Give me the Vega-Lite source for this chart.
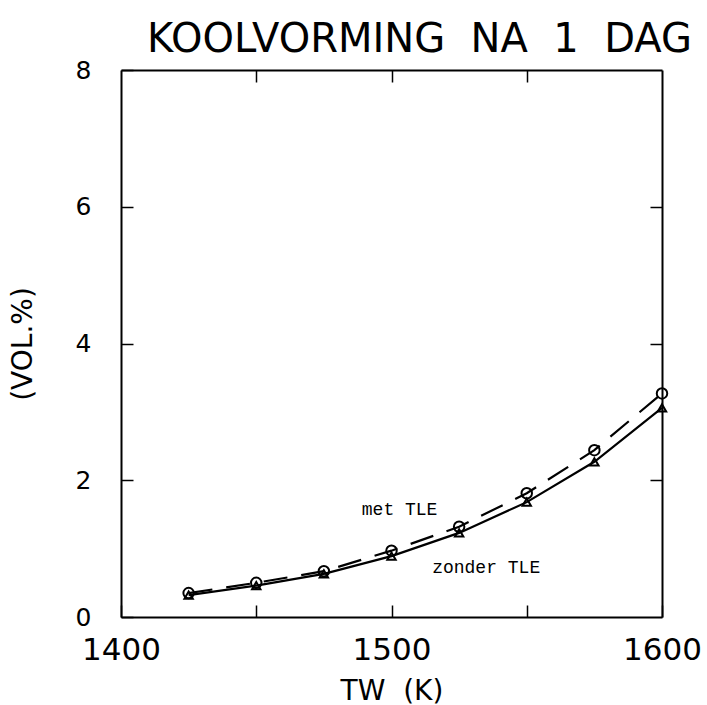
{
  "$schema": "https://vega.github.io/schema/vega-lite/v6.json",
  "autosize": "none",
  "width": 541,
  "height": 547,
  "padding": {"left": 121, "top": 70, "right": 45, "bottom": 88},
  "background": "white",
  "title": {"text": "KOOLVORMING\u00a0\u00a0NA\u00a0\u00a01\u00a0\u00a0DAG", "font": "DejaVu Sans", "fontSize": 40, "fontWeight": "normal", "color": "black", "anchor": "middle", "dx": 28, "dy": 24, "offset": 22},
  "config": {
    "view": {"stroke": null},
    "axis": {"domainColor": "black", "domainWidth": 2, "tickColor": "black", "tickWidth": 1.5, "tickSize": -12, "grid": false, "labelFont": "DejaVu Sans", "labelFontSize": 31, "labelColor": "black", "titleFont": "DejaVu Sans", "titleFontSize": 28, "titleFontWeight": "normal", "titleColor": "black"}
  },
  "datasets": {
    "pts": [
      {"TW": 1425, "vol": 0.35, "series": "met TLE"},
      {"TW": 1450, "vol": 0.50, "series": "met TLE"},
      {"TW": 1475, "vol": 0.67, "series": "met TLE"},
      {"TW": 1500, "vol": 0.97, "series": "met TLE"},
      {"TW": 1525, "vol": 1.32, "series": "met TLE"},
      {"TW": 1550, "vol": 1.81, "series": "met TLE"},
      {"TW": 1575, "vol": 2.44, "series": "met TLE"},
      {"TW": 1600, "vol": 3.27, "series": "met TLE"},
      {"TW": 1425, "vol": 0.32, "series": "zonder TLE"},
      {"TW": 1450, "vol": 0.46, "series": "zonder TLE"},
      {"TW": 1475, "vol": 0.63, "series": "zonder TLE"},
      {"TW": 1500, "vol": 0.89, "series": "zonder TLE"},
      {"TW": 1525, "vol": 1.23, "series": "zonder TLE"},
      {"TW": 1550, "vol": 1.68, "series": "zonder TLE"},
      {"TW": 1575, "vol": 2.27, "series": "zonder TLE"},
      {"TW": 1600, "vol": 3.06, "series": "zonder TLE"}
    ],
    "labels": [
      {"TW": 1503, "vol": 1.56, "label": "met TLE"},
      {"TW": 1535, "vol": 0.72, "label": "zonder TLE"}
    ]
  },
  "layer": [
    {
      "data": {"name": "pts"},
      "transform": [{"filter": "datum.series == 'zonder TLE'"}],
      "mark": {"type": "line", "color": "black", "strokeWidth": 2.2},
      "encoding": {
        "x": {"field": "TW", "type": "quantitative", "scale": {"domain": [1400, 1600], "nice": false, "zero": false},
              "axis": {"orient": "bottom", "title": "TW\u00a0\u00a0(K)", "titlePadding": 12, "values": [1400, 1450, 1500, 1550, 1600], "format": "d", "labelExpr": "datum.value % 100 == 0 ? datum.label : ''", "labelPadding": 30, "labelFlush": false}},
        "y": {"field": "vol", "type": "quantitative", "scale": {"domain": [0, 8], "nice": false},
              "axis": {"orient": "left", "title": "(VOL.%)", "titlePadding": 38, "values": [0, 2, 4, 6, 8], "labelPadding": 42, "labelFontSize": 25}}
      }
    },
    {
      "data": {"name": "pts"},
      "transform": [{"filter": "datum.series == 'met TLE'"}],
      "mark": {"type": "line", "color": "black", "strokeWidth": 2.2, "strokeDash": [24, 14]},
      "encoding": {
        "x": {"field": "TW", "type": "quantitative", "axis": {"orient": "top", "title": null, "labels": false, "values": [1450, 1500, 1550]}},
        "y": {"field": "vol", "type": "quantitative", "axis": {"orient": "right", "title": null, "labels": false, "values": [2, 4, 6]}}
      }
    },
    {
      "data": {"name": "pts"},
      "transform": [{"filter": "datum.series == 'met TLE'"}],
      "mark": {"type": "point", "shape": "circle", "filled": false, "color": "black", "opacity": 1, "strokeWidth": 2, "size": 110},
      "encoding": {
        "x": {"field": "TW", "type": "quantitative", "axis": null},
        "y": {"field": "vol", "type": "quantitative", "axis": null}
      }
    },
    {
      "data": {"name": "pts"},
      "transform": [{"filter": "datum.series == 'zonder TLE'"}],
      "mark": {"type": "point", "shape": "triangle-up", "filled": false, "color": "black", "opacity": 1, "strokeWidth": 2, "size": 70},
      "encoding": {
        "x": {"field": "TW", "type": "quantitative", "axis": null},
        "y": {"field": "vol", "type": "quantitative", "axis": null}
      }
    },
    {
      "data": {"name": "labels"},
      "mark": {"type": "text", "font": "Liberation Mono", "fontSize": 18, "color": "black", "align": "center", "baseline": "middle"},
      "encoding": {
        "x": {"field": "TW", "type": "quantitative", "axis": null},
        "y": {"field": "vol", "type": "quantitative", "axis": null},
        "text": {"field": "label"}
      }
    }
  ],
  "resolve": {"axis": {"x": "independent", "y": "independent"}}
}
